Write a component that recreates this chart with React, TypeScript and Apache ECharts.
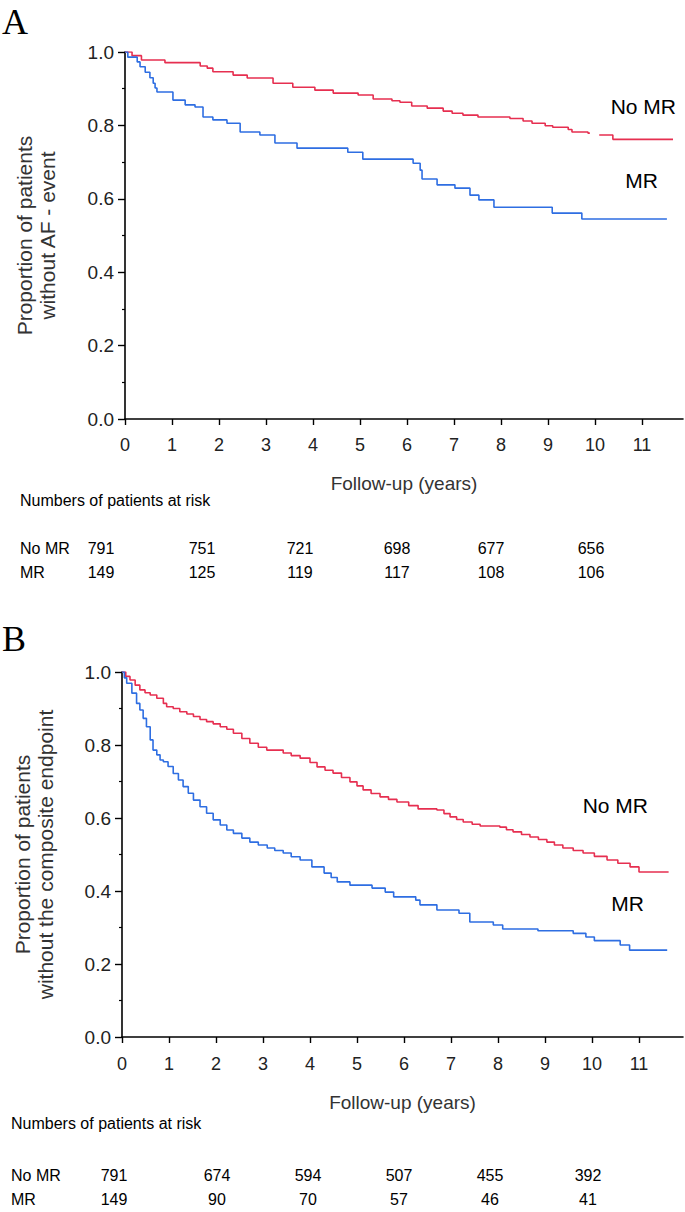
import React, { useEffect, useRef } from "react";
import * as echarts from "echarts";

// ---------- data ----------
const yearTicks = [0, 1, 2, 3, 4, 5, 6, 7, 8, 9, 10, 11];

// Panel A: freedom from AF event (time in years, proportion)
const noMrA: [number, number][] = [
  [0, 1.0], [0.15, 0.99], [0.35, 0.978], [0.85, 0.971], [1.6, 0.962], [1.75, 0.956],
  [1.87, 0.946], [2.3, 0.937], [2.6, 0.929], [3.15, 0.915], [3.57, 0.904], [4.04, 0.896],
  [4.43, 0.888], [4.96, 0.883], [5.28, 0.872], [5.68, 0.867], [5.85, 0.863], [6.1, 0.853],
  [6.43, 0.847], [6.77, 0.839], [6.96, 0.833], [7.19, 0.828], [7.51, 0.823], [8.19, 0.819],
  [8.47, 0.812], [8.66, 0.806], [8.94, 0.799], [9.1, 0.795], [9.43, 0.789], [9.51, 0.782],
  [9.85, 0.779], [9.89, 0.779],
];
const noMrALate: [number, number][] = [
  [10.09, 0.774], [10.38, 0.762], [11.66, 0.762],
];
const mrA: [number, number][] = [
  [0, 1.0], [0.06, 0.986], [0.26, 0.973], [0.32, 0.96], [0.43, 0.945], [0.53, 0.93],
  [0.6, 0.915], [0.64, 0.902], [0.68, 0.891], [1.02, 0.869], [1.28, 0.856], [1.49, 0.85],
  [1.66, 0.823], [1.87, 0.815], [2.17, 0.806], [2.45, 0.782], [2.87, 0.774], [3.19, 0.752],
  [3.66, 0.738], [4.74, 0.727], [5.06, 0.708], [6.13, 0.697], [6.28, 0.678], [6.32, 0.654],
  [6.64, 0.638], [7.02, 0.629], [7.34, 0.61], [7.53, 0.597], [7.85, 0.577], [9.09, 0.561],
  [9.72, 0.545], [11.53, 0.545],
];

// Panel B: freedom from the composite endpoint
const noMrB: [number, number][] = [
  [0, 1.0], [0.08, 0.988], [0.17, 0.978], [0.28, 0.964], [0.38, 0.951], [0.49, 0.943],
  [0.6, 0.937], [0.74, 0.928], [0.88, 0.914], [0.95, 0.905], [1.09, 0.9], [1.23, 0.891],
  [1.38, 0.885], [1.52, 0.878], [1.66, 0.87], [1.8, 0.864], [1.94, 0.858], [2.09, 0.85],
  [2.23, 0.843], [2.37, 0.832], [2.55, 0.818], [2.72, 0.805], [2.9, 0.794], [3.08, 0.786],
  [3.43, 0.778], [3.6, 0.771], [3.79, 0.764], [4.0, 0.752], [4.15, 0.74], [4.32, 0.731],
  [4.49, 0.723], [4.67, 0.711], [4.85, 0.699], [5.0, 0.688], [5.13, 0.677], [5.3, 0.667],
  [5.49, 0.658], [5.67, 0.651], [5.85, 0.644], [6.1, 0.634], [6.3, 0.625], [6.7, 0.622],
  [6.85, 0.612], [6.98, 0.603], [7.12, 0.596], [7.26, 0.589], [7.45, 0.583], [7.62, 0.578],
  [8.04, 0.575], [8.18, 0.568], [8.32, 0.562], [8.5, 0.555], [8.68, 0.548], [8.86, 0.541],
  [9.04, 0.534], [9.2, 0.526], [9.38, 0.518], [9.6, 0.511], [9.81, 0.504], [10.05, 0.495],
  [10.32, 0.485], [10.55, 0.476], [10.81, 0.466], [11.0, 0.452], [11.63, 0.452],
];
const mrB: [number, number][] = [
  [0, 1.0], [0.05, 0.984], [0.1, 0.969], [0.21, 0.942], [0.31, 0.914], [0.38, 0.896],
  [0.45, 0.873], [0.52, 0.85], [0.6, 0.814], [0.66, 0.786], [0.74, 0.773], [0.81, 0.759],
  [0.88, 0.754], [0.98, 0.741], [1.09, 0.722], [1.2, 0.704], [1.3, 0.686], [1.41, 0.668],
  [1.52, 0.649], [1.66, 0.631], [1.8, 0.613], [1.94, 0.595], [2.09, 0.581], [2.23, 0.567],
  [2.37, 0.558], [2.55, 0.545], [2.72, 0.534], [2.9, 0.526], [3.09, 0.518], [3.25, 0.511],
  [3.43, 0.504], [3.6, 0.494], [3.79, 0.485], [4.04, 0.466], [4.3, 0.449], [4.45, 0.437],
  [4.58, 0.425], [4.85, 0.416], [5.32, 0.408], [5.6, 0.397], [5.78, 0.384], [6.25, 0.375],
  [6.34, 0.362], [6.7, 0.348], [7.17, 0.339], [7.4, 0.315], [7.9, 0.307], [8.1, 0.296],
  [8.85, 0.291], [9.6, 0.284], [9.87, 0.274], [10.05, 0.264], [10.6, 0.252], [10.8, 0.238],
  [11.6, 0.238],
];

// Numbers at risk
const riskNoMrA = [791, 751, 721, 698, 677, 656];
const riskMrA = [149, 125, 119, 117, 108, 106];
const riskNoMrB = [791, 674, 594, 507, 455, 392];
const riskMrB = [149, 90, 70, 57, 46, 41];

const RED = "#e62f50";
const BLUE = "#2e6ee2";
const SANS = "'Liberation Sans', Arial, sans-serif";
const SERIF = "'Liberation Serif', 'Times New Roman', serif";

function xAxisCfg(gridIndex: number, max: number, nameGap: number, margin: number) {
  return {
    type: "value",
    gridIndex,
    min: 0,
    max,
    interval: 1,
    name: "Follow-up (years)",
    nameLocation: "middle",
    nameGap,
    nameTextStyle: { fontFamily: SANS, fontSize: 19, color: "#333" },
    axisLine: { show: true, lineStyle: { color: "#000", width: 1.6 } },
    axisTick: { show: true, length: 6, customValues: yearTicks, lineStyle: { color: "#000", width: 1.4 } },
    axisLabel: { customValues: yearTicks, margin, fontFamily: SANS, fontSize: 18, color: "#222" },
    splitLine: { show: false },
  };
}

function yAxisCfg(gridIndex: number, name: string, nameGap: number) {
  return {
    type: "value",
    gridIndex,
    min: 0,
    max: 1,
    interval: 0.2,
    name,
    nameLocation: "middle",
    nameRotate: 90,
    nameGap,
    nameTextStyle: { fontFamily: SANS, fontSize: 21, lineHeight: 23, color: "#333" },
    axisLine: { show: true, lineStyle: { color: "#000", width: 1.6 } },
    axisTick: { show: true, length: 7, lineStyle: { color: "#000", width: 1.4 } },
    minorTick: { show: true, splitNumber: 2, length: 3, lineStyle: { color: "#000", width: 1.2 } },
    axisLabel: {
      margin: 11,
      fontFamily: SANS,
      fontSize: 19,
      color: "#222",
      formatter: (v: number) => v.toFixed(1),
    },
    splitLine: { show: false },
  };
}

function stepSeries(data: [number, number][], color: string, idx: number) {
  return {
    type: "line",
    xAxisIndex: idx,
    yAxisIndex: idx,
    data,
    step: "end",
    showSymbol: false,
    symbol: "none",
    lineStyle: { color, width: 1.6 },
    itemStyle: { color },
  };
}

function txt(x: number, y: number, text: string, opts: any = {}) {
  return {
    type: "text",
    x,
    y,
    style: {
      text,
      fontFamily: opts.fontFamily || SANS,
      fontSize: opts.fontSize || 16,
      fill: opts.fill || "#000",
      align: opts.align || "left",
      verticalAlign: "middle",
    },
  };
}

function riskTable(labelX: number, titleY: number, rowY1: number, rowY2: number, cols: number[], r1: number[], r2: number[]) {
  const els: any[] = [];
  els.push(txt(labelX, titleY, "Numbers of patients at risk"));
  els.push(txt(labelX, rowY1, "No MR"));
  els.push(txt(labelX, rowY2, "MR"));
  r1.forEach((v, i) => els.push(txt(cols[i], rowY1, String(v), { align: "center" })));
  r2.forEach((v, i) => els.push(txt(cols[i], rowY2, String(v), { align: "center" })));
  return els;
}

export default function App() {
  const ref = useRef<HTMLDivElement>(null);

  useEffect(() => {
    if (!ref.current) return;
    const chart = echarts.init(ref.current, undefined, { renderer: "svg" });
    const graphics: any[] = [
      txt(2, 22, "A", { fontFamily: SERIF, fontSize: 36 }),
      txt(2, 639, "B", { fontFamily: SERIF, fontSize: 36 }),
      txt(676, 106, "No MR", { fontSize: 21, align: "right" }),
      txt(658, 180, "MR", { fontSize: 21, align: "right" }),
      txt(648, 805, "No MR", { fontSize: 21, align: "right" }),
      txt(644, 903, "MR", { fontSize: 21, align: "right" }),
      ...riskTable(20, 500, 548, 572, [101, 202, 300, 397, 491, 591], riskNoMrA, riskMrA),
      ...riskTable(11, 1123, 1175, 1199, [114, 217, 308, 399, 490, 588], riskNoMrB, riskMrB),
    ];
    chart.setOption({
      animation: false,
      backgroundColor: "#fff",
      grid: [
        { left: 125, top: 52, width: 558, height: 367 },
        { left: 122, top: 672, width: 561, height: 365 },
      ],
      xAxis: [xAxisCfg(0, 558 / 47, 55, 17), xAxisCfg(1, 561 / 47, 56, 18)],
      yAxis: [
        yAxisCfg(0, "Proportion of patients\nwithout AF - event", 66),
        yAxisCfg(1, "Proportion of patients\nwithout the composite endpoint", 65),
      ],
      series: [
        stepSeries(noMrA, RED, 0),
        stepSeries(noMrALate, RED, 0),
        stepSeries(mrA, BLUE, 0),
        stepSeries(noMrB, RED, 1),
        stepSeries(mrB, BLUE, 1),
      ],
      graphic: graphics,
    });
    return () => chart.dispose();
  }, []);

  return (
    <div
      ref={ref}
      style={{ position: "absolute", left: 0, top: 0, width: 685, height: 1212, background: "#fff" }}
    />
  );
}
